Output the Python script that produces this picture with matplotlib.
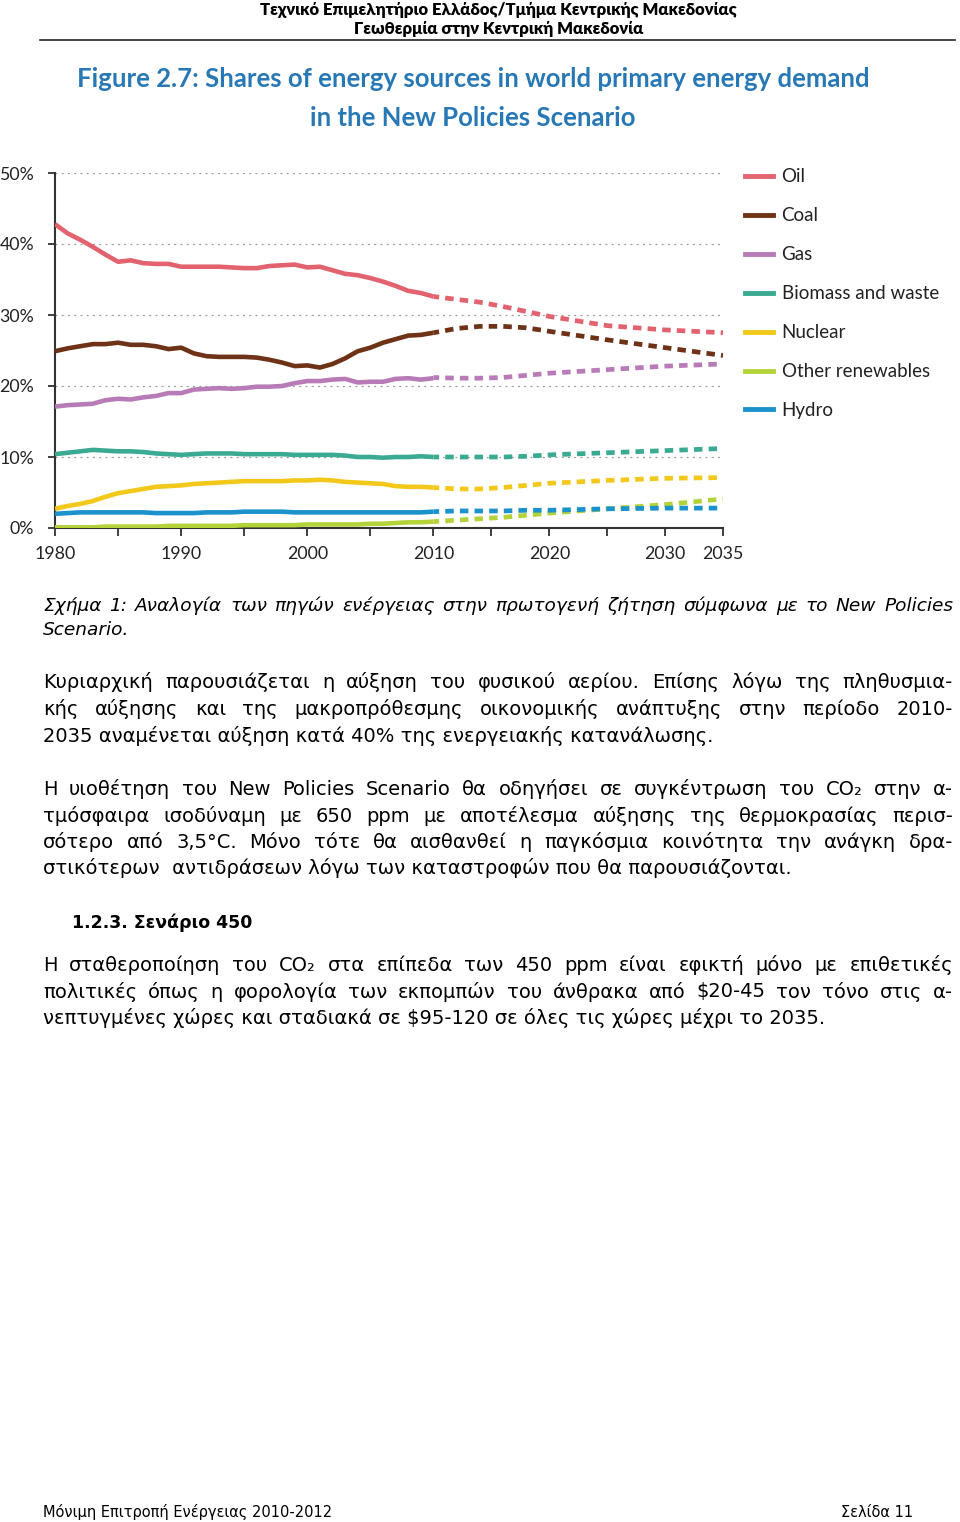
"""
Page 11 re-draw: IEA Figure 2.7 (shares of energy sources, New Policies
Scenario) plus the Greek text block around it.
"""

import numpy as np
import matplotlib
matplotlib.use('Agg')
import matplotlib.pyplot as plt
from matplotlib.lines import Line2D

# ── Data (% of world primary energy demand) ──
YEARS_HIST = list(range(1980, 2011))
YEARS_PROJ = [2010, 2012, 2014, 2016, 2018, 2020, 2025, 2030, 2035]

OIL_HIST = [42.8, 41.5, 40.6, 39.6, 38.5, 37.5, 37.7, 37.3, 37.2, 37.2,
            36.8, 36.8, 36.8, 36.8, 36.7, 36.6, 36.6, 36.9, 37.0, 37.1,
            36.7, 36.8, 36.3, 35.8, 35.6, 35.2, 34.7, 34.1, 33.4, 33.1, 32.6]
OIL_PROJ = [32.6, 32.2, 31.8, 31.2, 30.5, 29.8, 28.5, 27.9, 27.5]

COAL_HIST = [24.9, 25.3, 25.6, 25.9, 25.9, 26.1, 25.8, 25.8, 25.6, 25.2,
             25.4, 24.6, 24.2, 24.1, 24.1, 24.1, 24.0, 23.7, 23.3, 22.8,
             22.9, 22.6, 23.1, 23.9, 24.9, 25.4, 26.1, 26.6, 27.1, 27.2, 27.5]
COAL_PROJ = [27.5, 28.1, 28.4, 28.4, 28.2, 27.7, 26.5, 25.4, 24.3]

GAS_HIST = [17.1, 17.3, 17.4, 17.5, 18.0, 18.2, 18.1, 18.4, 18.6, 19.0,
            19.0, 19.5, 19.6, 19.7, 19.6, 19.7, 19.9, 19.9, 20.0, 20.4,
            20.7, 20.7, 20.9, 21.0, 20.5, 20.6, 20.6, 21.0, 21.1, 20.9, 21.1]
GAS_PROJ = [21.2, 21.1, 21.1, 21.2, 21.5, 21.8, 22.3, 22.8, 23.1]

BIO_HIST = [10.4, 10.6, 10.8, 11.0, 10.9, 10.8, 10.8, 10.7, 10.5, 10.4,
            10.3, 10.4, 10.5, 10.5, 10.5, 10.4, 10.4, 10.4, 10.4, 10.3,
            10.3, 10.3, 10.3, 10.2, 10.0, 10.0, 9.9, 10.0, 10.0, 10.1, 10.0]
BIO_PROJ = [10.0, 10.0, 10.0, 10.0, 10.1, 10.3, 10.6, 10.9, 11.2]

NUC_HIST = [2.7, 3.1, 3.4, 3.8, 4.4, 4.9, 5.2, 5.5, 5.8, 5.9,
            6.0, 6.2, 6.3, 6.4, 6.5, 6.6, 6.6, 6.6, 6.6, 6.7,
            6.7, 6.8, 6.7, 6.5, 6.4, 6.3, 6.2, 5.9, 5.8, 5.8, 5.7]
NUC_PROJ = [5.7, 5.5, 5.5, 5.7, 6.0, 6.3, 6.7, 7.0, 7.1]

REN_HIST = [0.1, 0.1, 0.1, 0.1, 0.2, 0.2, 0.2, 0.2, 0.2, 0.3,
            0.3, 0.3, 0.3, 0.3, 0.3, 0.4, 0.4, 0.4, 0.4, 0.4,
            0.5, 0.5, 0.5, 0.5, 0.5, 0.6, 0.6, 0.7, 0.8, 0.8, 0.9]
REN_PROJ = [0.9, 1.1, 1.3, 1.5, 1.8, 2.1, 2.7, 3.3, 4.1]

HYD_HIST = [2.0, 2.1, 2.2, 2.2, 2.2, 2.2, 2.2, 2.2, 2.1, 2.1,
            2.1, 2.1, 2.2, 2.2, 2.2, 2.3, 2.3, 2.3, 2.3, 2.2,
            2.2, 2.2, 2.2, 2.2, 2.2, 2.2, 2.2, 2.2, 2.2, 2.2, 2.3]
HYD_PROJ = [2.3, 2.4, 2.4, 2.4, 2.5, 2.5, 2.7, 2.8, 2.8]

LABELS = ['Oil', 'Coal', 'Gas', 'Biomass and waste', 'Nuclear',
          'Other renewables', 'Hydro']
COLORS = ['#e2626f', '#6e3217', '#b97bb7', '#3aab92', '#f2c81b',
          '#b4d33a', '#1b92cc']
HIST = [OIL_HIST, COAL_HIST, GAS_HIST, BIO_HIST, NUC_HIST, REN_HIST, HYD_HIST]
PROJ = [OIL_PROJ, COAL_PROJ, GAS_PROJ, BIO_PROJ, NUC_PROJ, REN_PROJ, HYD_PROJ]

X_TICKS = list(range(1980, 2036, 5))
X_LABELS = ['1980', '', '1990', '', '2000', '', '2010', '', '2020', '', '2030', '2035']
Y_TICKS = [0, 10, 20, 30, 40, 50]
Y_LABELS = ['0%', '10%', '20%', '30%', '40%', '50%']

# ── Page text ─────────────────────────────────────────────────
HEADER = ['Τεχνικό Επιμελητήριο Ελλάδος/Τμήμα Κεντρικής Μακεδονίας',
          'Γεωθερμία στην Κεντρική Μακεδονία']
TITLE = ['Figure 2.7: Shares of energy sources in world primary energy demand',
         'in the New Policies Scenario']
CAPTION = ['Σχήμα 1: Αναλογία των πηγών ενέργειας στην πρωτογενή ζήτηση σύμφωνα με το New Policies',
           'Scenario.']
PARA1 = ['Κυριαρχική παρουσιάζεται η αύξηση του φυσικού αερίου. Επίσης λόγω της πληθυσμια-',
         'κής αύξησης και της μακροπρόθεσμης οικονομικής ανάπτυξης στην περίοδο 2010-',
         '2035 αναμένεται αύξηση κατά 40% της ενεργειακής κατανάλωσης.']
PARA2 = ['Η υιοθέτηση του New Policies Scenario θα οδηγήσει σε συγκέντρωση του CO₂ στην α-',
         'τμόσφαιρα ισοδύναμη με 650 ppm με αποτέλεσμα αύξησης της θερμοκρασίας περισ-',
         'σότερο από 3,5°C. Μόνο τότε θα αισθανθεί η παγκόσμια κοινότητα την ανάγκη δρα-',
         'στικότερων  αντιδράσεων λόγω των καταστροφών που θα παρουσιάζονται.']
HEADING = '1.2.3. Σενάριο 450'
PARA3 = ['Η σταθεροποίηση του CO₂ στα επίπεδα των 450 ppm είναι εφικτή μόνο με επιθετικές',
         'πολιτικές όπως η φορολογία των εκπομπών του άνθρακα από $20-45 τον τόνο στις α-',
         'νεπτυγμένες χώρες και σταδιακά σε $95-120 σε όλες τις χώρες μέχρι το 2035.']
FOOTER_L = 'Μόνιμη Επιτροπή Ενέργειας 2010-2012'
FOOTER_R = 'Σελίδα 11'

W, H = 960, 1522
NARROW = ['Lato', 'Open Sans', 'DejaVu Sans']
BODY = ['DejaVu Sans']
BLUE = '#2878b5'


def fy(y_px):
    return 1 - y_px / H


# projection years are drawn on a slightly compressed scale (as in the source)
def _fwd(x):
    x = np.asarray(x, dtype=float)
    return np.where(x <= 2010, x, 2010 + (x - 2010) * 0.918)


def _inv(x):
    x = np.asarray(x, dtype=float)
    return np.where(x <= 2010, x, 2010 + (x - 2010) / 0.918)


fig = plt.figure(figsize=(W / 100, H / 100), dpi=100)
renderer = fig.canvas.get_renderer()

# ── Chart ─────────────────────────────────────────────────────
ax = fig.add_axes([55 / W, fy(528), (723 - 55) / W, (528 - 173) / H])
ax.set_xscale('function', functions=(_fwd, _inv))

for hist, proj, col in zip(HIST, PROJ, COLORS):
    ax.plot(YEARS_HIST, hist, color=col, lw=3.3, solid_capstyle='butt',
            solid_joinstyle='round', zorder=3)
    ax.plot(YEARS_PROJ, proj, color=col, lw=3.4, ls=(0.6, (1.8, 1.3)),
            dash_capstyle='butt', zorder=3)

ax.set_xlim(1980, 2035)
ax.set_ylim(0, 50)
ax.set_xticks(X_TICKS)
ax.set_xticklabels(X_LABELS)
ax.set_yticks(Y_TICKS)
ax.set_yticklabels(Y_LABELS)
for t in ax.get_xticklabels() + ax.get_yticklabels():
    t.set_family(NARROW)
    t.set_fontsize(12.8)
    t.set_color('#222222')
ax.tick_params(axis='x', direction='out', length=6, width=1.3, color='#333333', pad=7)
ax.tick_params(axis='y', direction='out', length=5, width=1.3, color='#333333', pad=10)
ax.grid(axis='y', ls=(0, (1.5, 3.5)), color='#999999', lw=0.9)
ax.set_axisbelow(True)
for side in ('top', 'right'):
    ax.spines[side].set_visible(False)
for side in ('left', 'bottom'):
    ax.spines[side].set_color('#333333')
    ax.spines[side].set_linewidth(1.5)

handles = [Line2D([], [], color=c, lw=3.5) for c in COLORS]
ax.legend(handles, LABELS, loc='upper left', bbox_to_anchor=(1.033, 1.013),
          borderaxespad=0, borderpad=0, frameon=False, handlelength=1.5,
          handletextpad=0.45, labelspacing=1.17,
          prop={'family': NARROW, 'size': 13.5})
for t in ax.get_legend().get_texts():
    t.set_color('#222222')

# ── Page text ─────────────────────────────────────────────────
X0, X1 = 43, 953


def justify(line, y_px, size, style='normal'):
    words = line.split(' ')
    objs = [fig.text(0, fy(y_px), w, family=BODY, size=size, style=style,
                     va='baseline', parse_math=False) for w in words]
    widths = [o.get_window_extent(renderer).width for o in objs]
    gap = (X1 - X0 - sum(widths)) / (len(words) - 1)
    x = X0
    for o, w in zip(objs, widths):
        o.set_x(x / W)
        x += w + gap


def paragraph(lines, y0, step, size, style='normal'):
    for i, line in enumerate(lines):
        y = y0 + i * step
        if i < len(lines) - 1:
            justify(line, y, size, style)
        else:
            fig.text(X0 / W, fy(y), line, family=BODY, size=size, style=style,
                     va='baseline', parse_math=False)


fig.text(498 / W, fy(15), HEADER[0], ha='center', va='baseline', family=NARROW,
         weight='heavy', size=12)
fig.text(499 / W, fy(34), HEADER[1], ha='center', va='baseline', family=NARROW,
         weight='heavy', size=12)
fig.add_artist(Line2D([40 / W, 955 / W], [fy(40), fy(40)], color='#222222', lw=1.2))

fig.text(473 / W, fy(87), TITLE[0], ha='center', va='baseline', family=NARROW,
         weight='bold', size=18.5, color=BLUE)
fig.text(473 / W, fy(126), TITLE[1], ha='center', va='baseline', family=NARROW,
         weight='bold', size=18.5, color=BLUE)

paragraph(CAPTION, 611, 24, 13.3, style='italic')
paragraph(PARA1, 688, 27, 14)
paragraph(PARA2, 795, 26.5, 14)
fig.text(72 / W, fy(928), HEADING, family=BODY, weight='bold', size=12.5,
         va='baseline')
paragraph(PARA3, 971, 26.5, 14)

fig.text(X0 / W, fy(1517), FOOTER_L, family=BODY, size=10.5, va='baseline')
fig.text(913 / W, fy(1517), FOOTER_R, family=BODY, size=10.5, va='baseline', ha='right')

fig.savefig('out.png', dpi=100, facecolor='white')
